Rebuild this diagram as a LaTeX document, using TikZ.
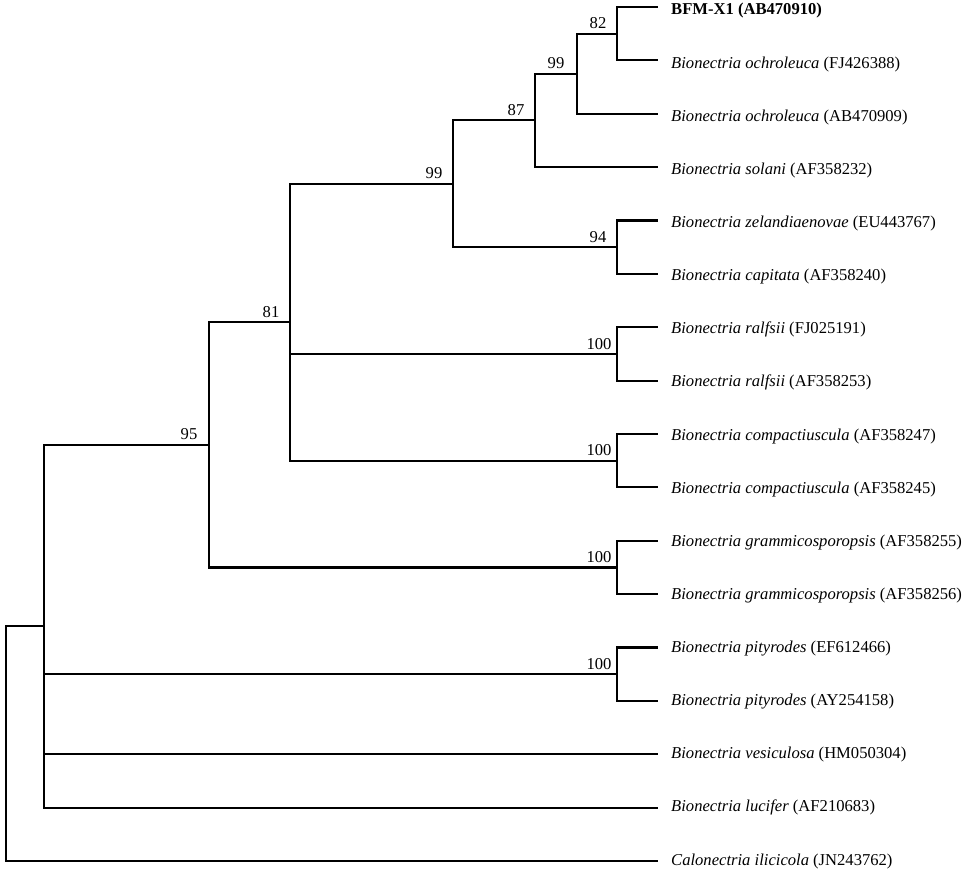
\documentclass[tikz,border=0pt]{standalone}
\usepackage{fontspec}
\setmainfont{Liberation Serif}
\begin{document}
\begin{tikzpicture}[x=1pt,y=-1pt,
  br/.style={line width=2.1pt,line cap=rect},
  leaf/.style={anchor=base west,inner sep=0pt,font=\fontsize{16.6}{18}\selectfont},
  boot/.style={anchor=base,inner sep=0pt,font=\fontsize{16.6}{18}\selectfont}]
\useasboundingbox (0,0) rectangle (966,872);
% leaf tips
\foreach \i/\yy in {1/7,2/60.4,3/113.8,4/167.1,5/220.5,6/273.9,7/327.3,8/380.6,9/434,10/487.4,11/540.8,12/594.1,13/647.5,14/700.9,15/754.3,16/807.6,17/861}
  \coordinate (l\i) at (657,\yy);
% internal nodes
\coordinate (n82) at (617,33.7);
\coordinate (n99a) at (577,73.75);
\coordinate (n87) at (535,120.4);
\coordinate (n94) at (617,247.2);
\coordinate (n99b) at (453,183.8);
\coordinate (nral) at (617,354);
\coordinate (ncomp) at (617,460.7);
\coordinate (n81) at (290,322.2);
\coordinate (ngram) at (617,567.5);
\coordinate (n95) at (209,444.9);
\coordinate (npit) at (617,674.2);
\coordinate (nin) at (44,626.2);
\coordinate (root) at (6,626.2);
% branches
\draw[br] (n82) |- (l1); \draw[br] (n82) |- (l2);
\draw[br] (n99a) |- (n82); \draw[br] (n99a) |- (l3);
\draw[br] (n87) |- (n99a); \draw[br] (n87) |- (l4);
\draw[br] (n94) |- (l5); \draw[br] (n94) |- (l6);
\draw[br] (n99b) |- (n87); \draw[br] (n99b) |- (n94);
\draw[br] (nral) |- (l7); \draw[br] (nral) |- (l8);
\draw[br] (ncomp) |- (l9); \draw[br] (ncomp) |- (l10);
\draw[br] (n81) |- (n99b); \draw[br] (n81) |- (nral); \draw[br] (n81) |- (ncomp);
\draw[br] (ngram) |- (l11); \draw[br] (ngram) |- (l12);
\draw[br] (n95) |- (n81); \draw[br] (n95) |- (ngram);
\draw[br] (npit) |- (l13); \draw[br] (npit) |- (l14);
\draw[br] (nin) |- (n95); \draw[br] (nin) |- (npit); \draw[br] (nin) |- (l15); \draw[br] (nin) |- (l16);
\draw[br] (root) -- (nin); \draw[br] (root) |- (l17);
% leaf labels
\node[leaf] (t1) at ([xshift=14pt,yshift=-8pt]l1) {\textbf{BFM-X1 (AB470910)}};
\node[leaf] (t2) at ([xshift=14pt,yshift=-7.75pt]l2) {\textit{Bionectria ochroleuca} (FJ426388)};
\node[leaf] (t3) at ([xshift=14pt,yshift=-7.5pt]l3) {\textit{Bionectria ochroleuca} (AB470909)};
\node[leaf] (t4) at ([xshift=14pt,yshift=-7.25pt]l4) {\textit{Bionectria solani} (AF358232)};
\node[leaf] (t5) at ([xshift=14pt,yshift=-7pt]l5) {\textit{Bionectria zelandiaenovae} (EU443767)};
\node[leaf] (t6) at ([xshift=14pt,yshift=-6.75pt]l6) {\textit{Bionectria capitata} (AF358240)};
\node[leaf] (t7) at ([xshift=14pt,yshift=-6.5pt]l7) {\textit{Bionectria ralfsii} (FJ025191)};
\node[leaf] (t8) at ([xshift=14pt,yshift=-6.25pt]l8) {\textit{Bionectria ralfsii} (AF358253)};
\node[leaf] (t9) at ([xshift=14pt,yshift=-6pt]l9) {\textit{Bionectria compactiuscula} (AF358247)};
\node[leaf] (t10) at ([xshift=14pt,yshift=-5.75pt]l10) {\textit{Bionectria compactiuscula} (AF358245)};
\node[leaf] (t11) at ([xshift=14pt,yshift=-5.5pt]l11) {\textit{Bionectria grammicosporopsis} (AF358255)};
\node[leaf] (t12) at ([xshift=14pt,yshift=-5.25pt]l12) {\textit{Bionectria grammicosporopsis} (AF358256)};
\node[leaf] (t13) at ([xshift=14pt,yshift=-5pt]l13) {\textit{Bionectria pityrodes} (EF612466)};
\node[leaf] (t14) at ([xshift=14pt,yshift=-4.75pt]l14) {\textit{Bionectria pityrodes} (AY254158)};
\node[leaf] (t15) at ([xshift=14pt,yshift=-4.5pt]l15) {\textit{Bionectria vesiculosa} (HM050304)};
\node[leaf] (t16) at ([xshift=14pt,yshift=-4.25pt]l16) {\textit{Bionectria lucifer} (AF210683)};
\node[leaf] (t17) at ([xshift=14pt,yshift=-4pt]l17) {\textit{Calonectria ilicicola} (JN243762)};
% bootstrap values
\node[boot] (b82) at ([xshift=-19pt,yshift=5pt]n82) {82};
\node[boot] (b99a) at ([xshift=-21pt,yshift=5pt]n99a) {99};
\node[boot] (b87) at ([xshift=-19pt,yshift=5pt]n87) {87};
\node[boot] (b94) at ([xshift=-19pt,yshift=5pt]n94) {94};
\node[boot] (b99b) at ([xshift=-19pt,yshift=5pt]n99b) {99};
\node[boot] (bral) at ([xshift=-18pt,yshift=5pt]nral) {100};
\node[boot] (bcomp) at ([xshift=-18pt,yshift=5pt]ncomp) {100};
\node[boot] (b81) at ([xshift=-19pt,yshift=5pt]n81) {81};
\node[boot] (bgram) at ([xshift=-18pt,yshift=5pt]ngram) {100};
\node[boot] (b95) at ([xshift=-20pt,yshift=5pt]n95) {95};
\node[boot] (bpit) at ([xshift=-18pt,yshift=5pt]npit) {100};
\end{tikzpicture}
\end{document}
